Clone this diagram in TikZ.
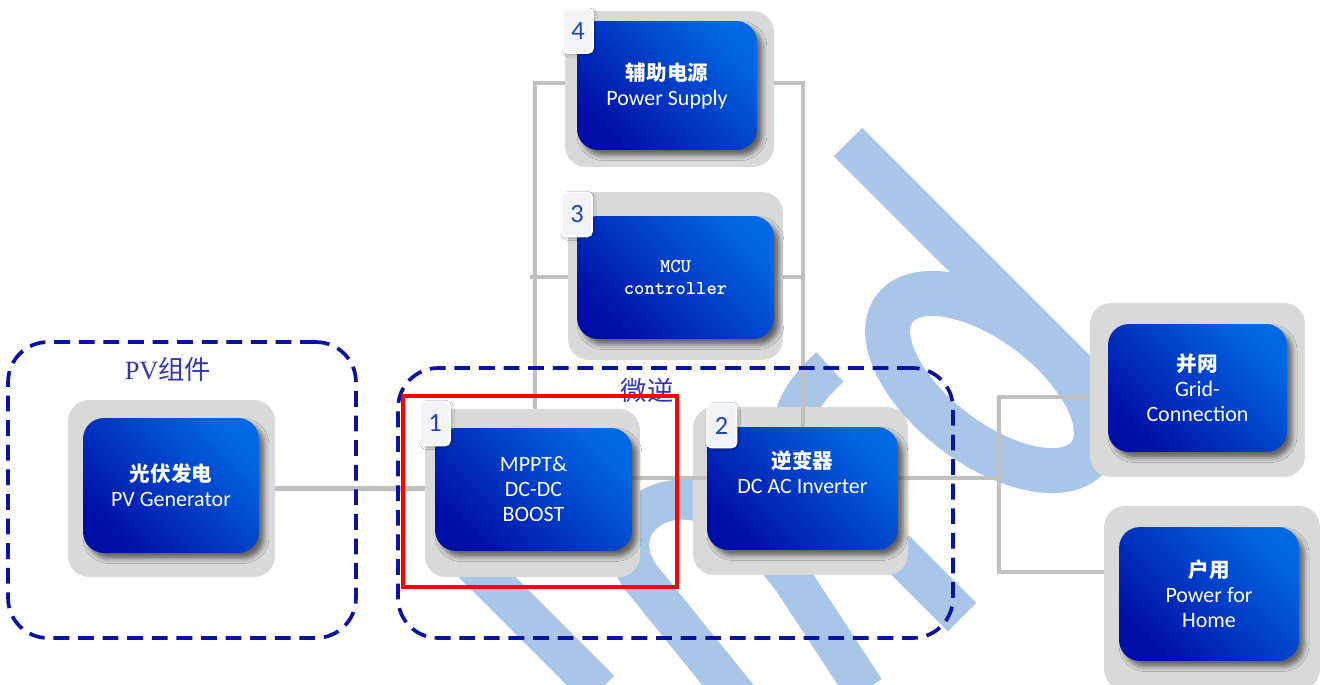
\documentclass[tikz,border=0pt]{standalone}
\usepackage{fontspec}
\setmainfont{Carlito}
\newfontfamily\cjk{Noto Sans CJK SC}
\newfontfamily\pvserif{Liberation Serif}
\usetikzlibrary{shadows.blur,positioning}

\definecolor{plategray}{HTML}{D9D9D9}
\definecolor{boxdark}{HTML}{000EA8}
\definecolor{boxmid}{HTML}{0026B6}
\definecolor{boxlight}{HTML}{0068E2}
\definecolor{linegray}{HTML}{C0C0C0}
\definecolor{groupblue}{HTML}{0A12A0}
\definecolor{labelblue}{HTML}{3036B4}
\definecolor{badgeblue}{HTML}{1F45B5}
\definecolor{badgefill}{HTML}{F1F3F7}
\definecolor{wmblue}{HTML}{A9C6E8}

\newcommand{\zhb}[1]{{\cjk\bfseries\fontsize{11.7}{14.2}\selectfont #1}}

\begin{document}
\begin{tikzpicture}[x=0.02cm, y=-0.02cm,
    plate/.style={fill=plategray, rounded corners=0.42cm, inner sep=0pt},
    unit/.style={rounded corners=0.42cm, inner sep=0pt, top color=boxlight, middle color=boxmid,
        bottom color=boxdark, shading angle=-45, text=white, align=center,
        font=\fontsize{12.5}{14.2}\selectfont,
        blur shadow={shadow xshift=0.1cm, shadow yshift=-0.11cm, shadow blur radius=0.1cm, shadow opacity=55}},
    badge/.style={fill=badgefill, draw=white, line width=1pt, rounded corners=0.1cm, inner sep=0pt,
        minimum width=0.6cm, minimum height=0.88cm, text=badgeblue, font=\fontsize{15}{15}\selectfont,
        blur shadow={shadow xshift=0.03cm, shadow yshift=-0.03cm, shadow blur radius=0.05cm, shadow opacity=35}},
    group/.style={draw=groupblue, line width=2.1pt, dash pattern=on 9pt off 5pt, rounded corners=0.8cm, inner sep=0pt},
    grouplabel/.style={text=labelblue, font=\fontsize{15}{16}\selectfont, inner sep=0pt},
    link/.style={draw=linegray, line width=2.3pt},
    wmark/.style={draw=wmblue, line width=0.8cm}
]
    \useasboundingbox (0,0) rectangle (1322,684);
    \fill[white] (0,0) rectangle (1322,684);

    % watermark
    \draw[wmark] (848,142) -- (1115,409);
    \draw[wmark, line width=0.9cm, rotate around={-37:(992,382)}] (992,382) ellipse [x radius=122, y radius=62];
    \draw[wmark] (830,367) .. controls (760,430) and (800,470) .. (870,525) -- (962,617);
    \draw[wmark] (455,545) -- (600,690);
    \draw[wmark] (740,700) -- (643,580) .. controls (610,540) and (640,495) .. (690,500)
        .. controls (740,505) and (760,540) .. (791,577) -- (865,690);

    % gray plates
    \node [plate, minimum width=4.14cm, minimum height=3.54cm] (pvplate) at (171.5,488.5) {};
    \node [plate, minimum width=4.30cm, minimum height=3.36cm] (mpptplate) at (532.5,493) {};
    \node [plate, minimum width=4.30cm, minimum height=3.36cm] (invplate) at (800.5,491) {};
    \node [plate, minimum width=4.30cm, minimum height=3.36cm] (mcuplate) at (675.5,276) {};
    \node [plate, minimum width=4.18cm, minimum height=3.12cm] (pwrplate) at (669.5,89) {};
    \node [plate, minimum width=4.30cm, minimum height=3.48cm] (gridplate) at (1197.5,390) {};
    \node [plate, minimum width=4.32cm, minimum height=3.68cm] (homeplate) at (1212,598) {};

    % junctions
    \coordinate (jmi) at (670,478);
    \coordinate (jout) at (999,478);
    \coordinate (jgrid) at (999,397);
    \coordinate (jhome) at (999,572);
    \coordinate (jtl) at (535,83);
    \coordinate (jml) at (530,277);
    \coordinate (jtr) at (803,83);
    \coordinate (jmr) at (803,277);

    % connectors (the units cover their inner ends)
    \draw [link] (pvplate.east) -- (pvplate.east -| mpptplate.west);
    \draw [link] (jmi -| mpptplate.center) -- (jmi -| invplate.center);
    \draw [link] (jmi -| invplate.center) -- (jout);
    \draw [link] (gridplate.west |- jgrid) -- (jgrid) -- (jhome) -- (homeplate.west |- jhome);
    \draw [link] (pwrplate.west |- jtl) -- (jtl) -- (jtl |- mpptplate.north);
    \draw [link] (jml) -- (mcuplate.west |- jml);
    \draw [link] (pwrplate.east |- jtr) -- (jtr) -- (jtr |- invplate.center);
    \draw [link] (mcuplate.east |- jmr) -- (jmr);

    % blue units
    \node [unit, minimum width=3.52cm, minimum height=2.70cm] (pvbox) at (171,485.5) {\zhb{光伏发电}\\PV Generator};
    \node [unit, minimum width=3.94cm, minimum height=2.46cm] (mpptbox) at (533.5,489.5) {MPPT\&\\DC-DC\\BOOST};
    \node [unit, minimum width=3.82cm, minimum height=2.46cm] (invbox) at (802.5,488.5) {\zhb{逆变器}\\DC AC Inverter\\\strut};
    \node [unit, minimum width=3.94cm, minimum height=2.46cm, font=\ttfamily\bfseries\fontsize{11.2}{12.5}\selectfont] (mcubox) at (675.5,277.5) {MCU\\controller};
    \node [unit, minimum width=3.60cm, minimum height=2.58cm] (pwrbox) at (667,85.5) {\zhb{辅助电源}\\Power Supply};
    \node [unit, minimum width=3.58cm, minimum height=2.56cm] (gridbox) at (1197.5,388) {\zhb{并网}\\Grid-\\Connection};
    \node [unit, minimum width=3.60cm, minimum height=2.68cm] (homebox) at (1209,594) {\zhb{户用}\\Power for\\Home};

    % number tags
    \node [badge] (tag1) at (435,423.5) {1};
    \node [badge] (tag2) at (721.5,425.5) {2};
    \node [badge] (tag3) at (577,214.5) {3};
    \node [badge] (tag4) at (578,31) {4};

    % dashed groups
    \node [group, minimum width=6.96cm, minimum height=5.92cm] (pvgroup) at (182,490) {};
    \node [group, minimum width=11.10cm, minimum height=5.40cm] (migroup) at (675.5,503) {};
    \node [grouplabel] (pvlabel) at (168,369) {{\pvserif PV}{\cjk 组件}};
    \node [grouplabel] (milabel) at (647,390) {{\cjk 微逆}};

    % highlight
    \node [draw=red, line width=2pt, inner sep=0pt, minimum width=5.48cm, minimum height=3.82cm] (focus) at (540,491.5) {};
\end{tikzpicture}
\end{document}
